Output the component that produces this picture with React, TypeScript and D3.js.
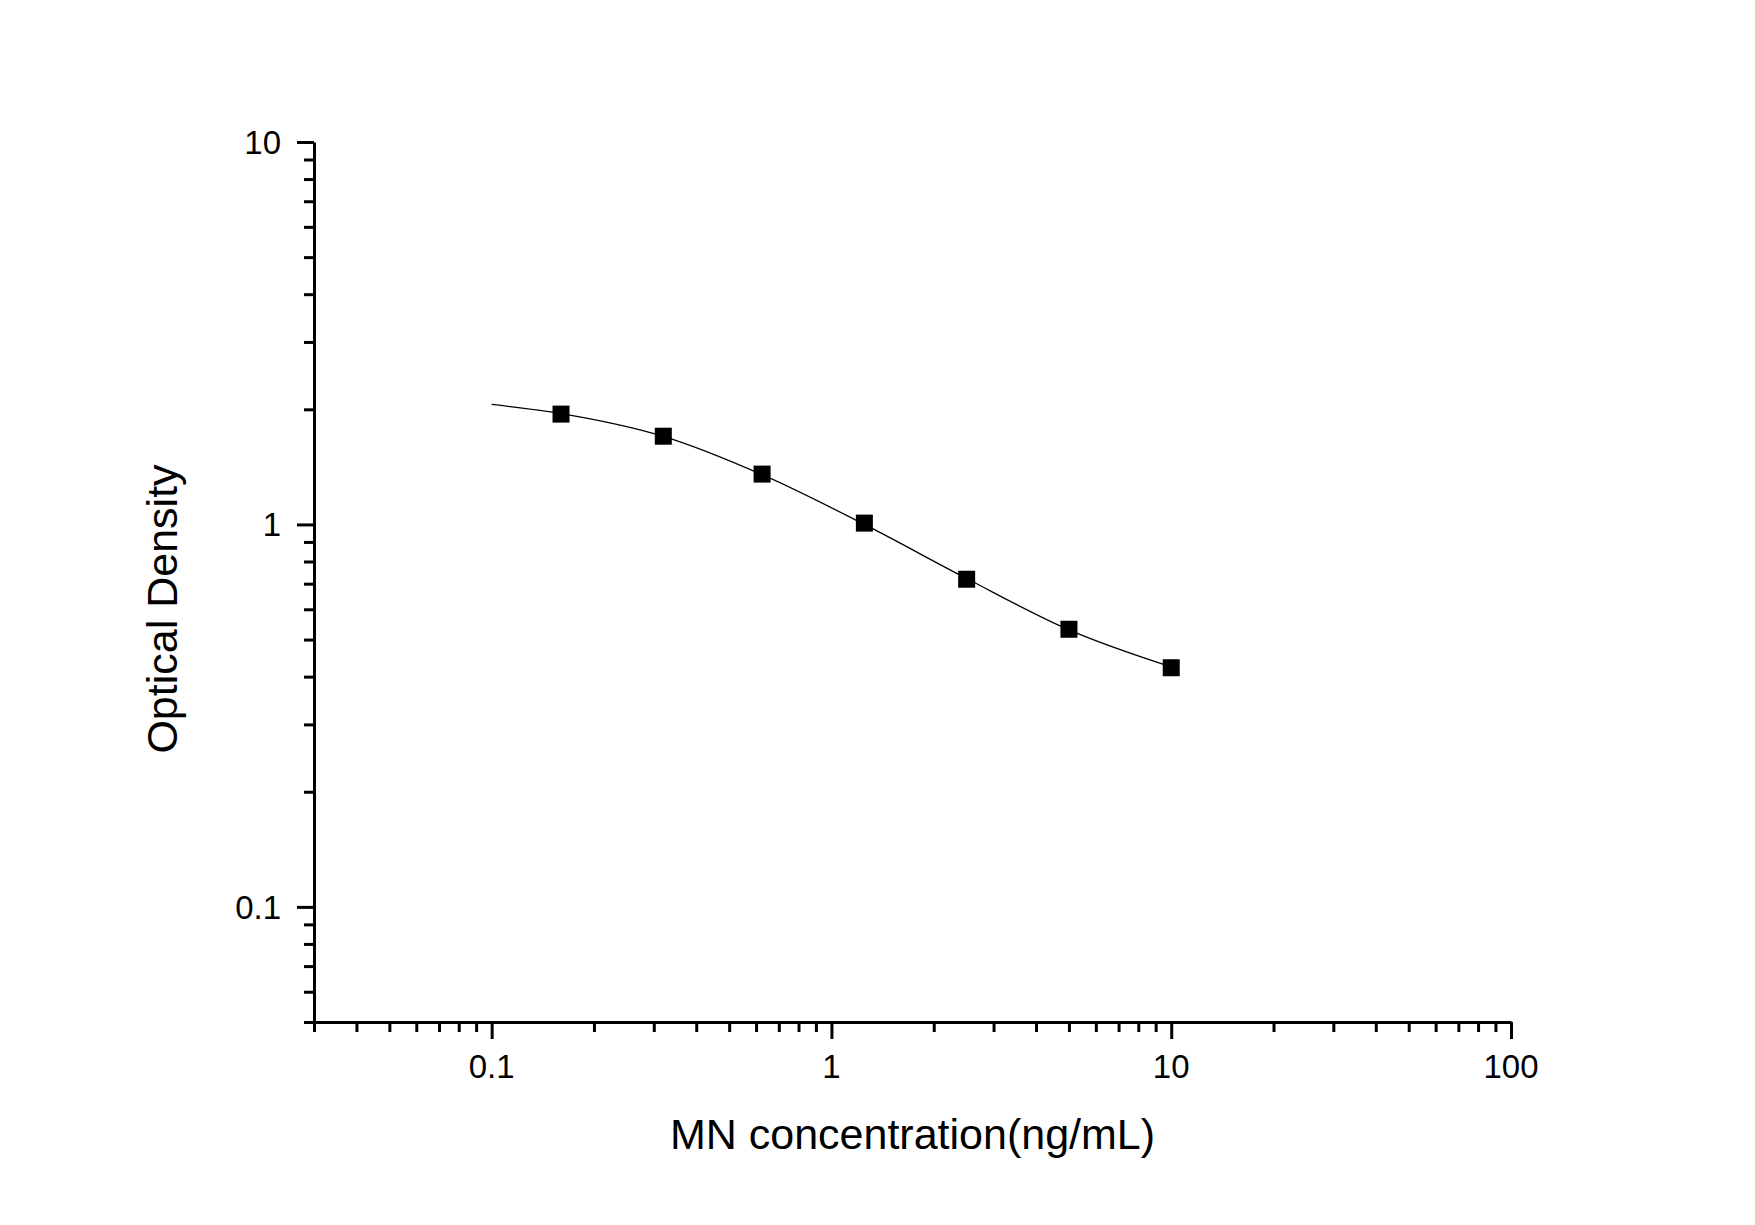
import { useEffect, useRef } from "react";
import * as d3 from "d3";

// standards (ng/mL) and measured OD
const concentration = [0.16, 0.32, 0.625, 1.25, 2.5, 5, 10];
const opticalDensity = [1.943, 1.701, 1.354, 1.008, 0.719, 0.532, 0.422];

// fitted curve
const fitConcentration = [0.1, 0.16, 0.32, 0.625, 1.25, 2.5, 5, 10];
const fitDensity = [2.06, 1.95, 1.70, 1.35, 1.0, 0.722, 0.53, 0.424];

const xMajorTicks = [0.1, 1, 10, 100];
const xTickLabels = ["0.1", "1", "10", "100"];
const yMajorTicks = [0.1, 1, 10];
const yTickLabels = ["0.1", "1", "10"];

const FONT = "'Liberation Sans', Arial, sans-serif";

export default function App() {
  const svgRef = useRef<SVGSVGElement | null>(null);

  useEffect(() => {
    if (!svgRef.current) return;

    const width = 1755;
    const height = 1225;
    const margin = { top: 142, right: 244, bottom: 203, left: 314 };

    const svg = d3.select(svgRef.current);
    svg.selectAll("*").remove();
    svg.attr("width", width).attr("height", height);

    svg.append("rect").attr("width", width).attr("height", height).attr("fill", "#fff");

    const x = d3.scaleLog().domain([0.03, 100]).range([margin.left, width - margin.right]);
    const y = d3.scaleLog().domain([0.05, 10]).range([height - margin.bottom, margin.top]);

    const xMinor = x.ticks().filter(t => !xMajorTicks.some(m => Math.abs(m - t) / m < 1e-6));
    const yMinor = y.ticks().filter(t => !yMajorTicks.some(m => Math.abs(m - t) / m < 1e-6));

    const x0 = x.range()[0];
    const y0 = y.range()[0];

    // minor ticks
    svg.append("g")
      .attr("transform", `translate(0,${y0})`)
      .call(d3.axisBottom(x).tickValues(xMinor).tickSize(10).tickSizeOuter(0).tickFormat(() => ""))
      .call(g => g.select(".domain").remove())
      .selectAll("line").attr("stroke", "#000").attr("stroke-width", 3);

    svg.append("g")
      .attr("transform", `translate(${x0},0)`)
      .call(d3.axisLeft(y).tickValues(yMinor).tickSize(10).tickSizeOuter(0).tickFormat(() => ""))
      .call(g => g.select(".domain").remove())
      .selectAll("line").attr("stroke", "#000").attr("stroke-width", 3);

    // major ticks + axis lines
    const xAxis = svg.append("g")
      .attr("transform", `translate(0,${y0})`)
      .call(d3.axisBottom(x).tickValues(xMajorTicks).tickSize(17).tickSizeOuter(0).tickFormat(() => ""));
    xAxis.select(".domain").attr("stroke", "#000").attr("stroke-width", 3);
    xAxis.selectAll("line").attr("stroke", "#000").attr("stroke-width", 3);

    const yAxis = svg.append("g")
      .attr("transform", `translate(${x0},0)`)
      .call(d3.axisLeft(y).tickValues(yMajorTicks).tickSize(17).tickSizeOuter(0).tickFormat(() => ""));
    yAxis.select(".domain").attr("stroke", "#000").attr("stroke-width", 3);
    yAxis.selectAll("line").attr("stroke", "#000").attr("stroke-width", 3);

    // tick labels
    svg.append("g")
      .selectAll("text")
      .data(xMajorTicks)
      .join("text")
      .attr("x", d => x(d))
      .attr("y", y0 + 56)
      .attr("text-anchor", "middle")
      .attr("font-family", FONT)
      .attr("font-size", 33)
      .attr("fill", "#000")
      .text((_, i) => xTickLabels[i]);

    svg.append("g")
      .selectAll("text")
      .data(yMajorTicks)
      .join("text")
      .attr("x", x0 - 33)
      .attr("y", d => y(d) + 12)
      .attr("text-anchor", "end")
      .attr("font-family", FONT)
      .attr("font-size", 33)
      .attr("fill", "#000")
      .text((_, i) => yTickLabels[i]);

    // axis titles
    svg.append("text")
      .attr("x", (x.range()[0] + x.range()[1]) / 2)
      .attr("y", 1149)
      .attr("text-anchor", "middle")
      .attr("font-family", FONT)
      .attr("font-size", 43)
      .attr("fill", "#000")
      .text("MN concentration(ng/mL)");

    svg.append("text")
      .attr("transform", `translate(177,609) rotate(-90)`)
      .attr("text-anchor", "middle")
      .attr("font-family", FONT)
      .attr("font-size", 43)
      .attr("fill", "#000")
      .text("Optical Density");

    // fitted curve
    const line = d3.line<number>()
      .x((_, i) => x(fitConcentration[i]))
      .y(d => y(d))
      .curve(d3.curveMonotoneX);

    svg.append("path")
      .datum(fitDensity)
      .attr("d", line)
      .attr("fill", "none")
      .attr("stroke", "#000")
      .attr("stroke-width", 1.3);

    // standard points
    const size = 17;
    svg.append("g")
      .selectAll("rect")
      .data(opticalDensity)
      .join("rect")
      .attr("x", (_, i) => x(concentration[i]) - size / 2)
      .attr("y", d => y(d) - size / 2)
      .attr("width", size)
      .attr("height", size)
      .attr("fill", "#000");
  }, []);

  return <svg ref={svgRef} style={{ position: "absolute", left: 0, top: 0, display: "block" }} />;
}
